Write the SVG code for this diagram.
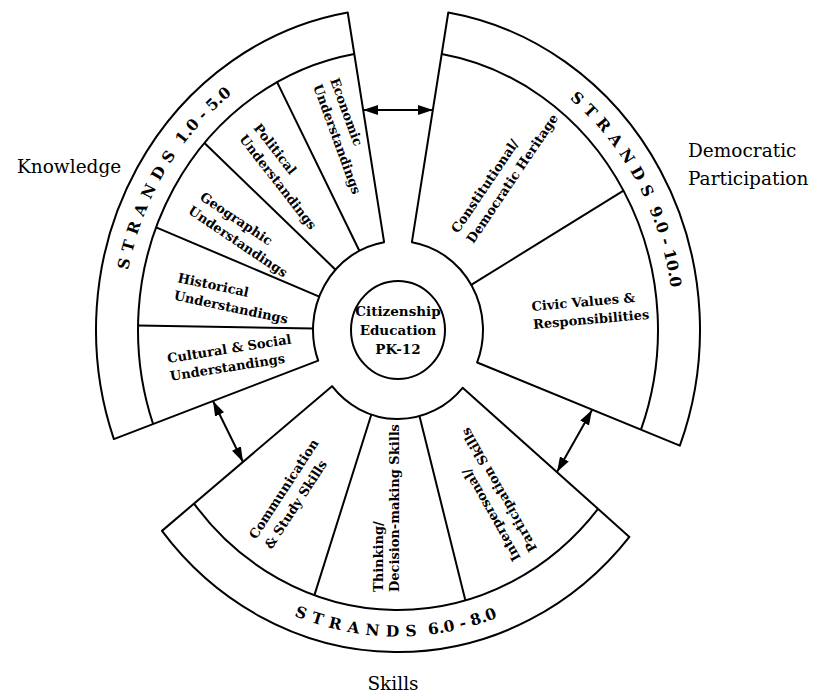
<svg xmlns="http://www.w3.org/2000/svg" width="821" height="694" viewBox="0 0 821 694">
<style>
.ol{fill:none;stroke:#000;stroke-width:2;stroke-linejoin:round}
.ln{fill:none;stroke:#000;stroke-width:2}
.lab{font-family:"DejaVu Serif","Liberation Serif",serif;font-weight:bold;font-size:13px;fill:#000}
.big{font-family:"DejaVu Serif","Liberation Serif",serif;font-size:18.5px;fill:#000}
.str{font-family:"DejaVu Serif","Liberation Serif",serif;font-weight:bold;font-size:15.5px;fill:#000}
.sp{letter-spacing:6.5px}
.ctr{font-family:"DejaVu Serif","Liberation Serif",serif;font-weight:bold;font-size:13.5px;fill:#000;text-anchor:middle}
</style>
<defs>
<marker id="ah" markerUnits="userSpaceOnUse" markerWidth="15" markerHeight="10" refX="15" refY="5" orient="auto-start-reverse" viewBox="0 0 15 10">
<path d="M0,0 L15,5 L0,10 Z" fill="#000"/>
</marker>
<path id="tpK" d="M128.20,270.20 A275.5,295.5 0 0 1 307.34,50.96"/>
<path id="tpD" d="M569.41,98.65 A275.5,295.5 0 0 1 669.85,377.92"/>
<path id="tpS" d="M294.05,615.61 A286.5,306.5 0 0 0 539.67,596.41"/>
</defs>

<g id="knowledge">
<path class="ol" d="M318.20,360.64 L113.86,439.08 A302,322 0 0 1 347.72,12.49 L384.10,242.20 A85,89 0 0 0 318.20,360.64 Z"/>
<path class="ln" d="M153.10,424.02 A260,280 0 0 1 354.29,53.99"/>
<path class="ln" d="M313.01,328.52 L138.04,325.46 M319.22,296.56 L156.11,227.33 M335.52,269.66 L204.44,143.06 M359.34,250.74 L277.09,82.12"/>
<text class="str"><textPath href="#tpK"><tspan class="sp">STRANDS</tspan> 1.0 - 5.0</textPath></text>
<g id="k-cultural"><text class="lab" transform="translate(168,363) rotate(-9)"><tspan x="0" y="0">Cultural &amp; Social</tspan><tspan x="0" y="18">Understandings</tspan></text></g>
<g id="k-historical"><text class="lab" transform="translate(177,282) rotate(12)"><tspan x="0" y="0">Historical</tspan><tspan x="0" y="18">Understandings</tspan></text></g>
<g id="k-geographic"><text class="lab" transform="translate(199,199) rotate(34)"><tspan x="0" y="0">Geographic</tspan><tspan x="-2" y="18">Understandings</tspan></text></g>
<g id="k-political"><text class="lab" transform="translate(253,128) rotate(52)"><tspan x="0" y="0">Political</tspan><tspan x="0" y="18">Understandings</tspan></text></g>
<g id="k-economic"><text class="lab" transform="translate(330,80) rotate(70)"><tspan x="0" y="0">Economic</tspan><tspan x="0" y="18">Understandings</tspan></text></g>
</g>

<g id="democratic">
<path class="ol" d="M411.90,242.20 L448.28,12.49 A302,322 0 0 1 679.86,445.61 L477.14,362.46 A85,89 0 0 0 411.90,242.20 Z"/>
<path class="ln" d="M441.71,53.99 A260,280 0 0 1 640.97,429.66"/>
<path class="ln" d="M471.21,284.78 L623.54,190.69"/>
<text class="str"><textPath href="#tpD"><tspan class="sp">STRANDS</tspan> 9.0 - 10.0</textPath></text>
<g id="d-constitutional"><text class="lab" transform="translate(458,234) rotate(-56)"><tspan x="0" y="0">Constitutional/</tspan><tspan x="0" y="18.5">Democratic Heritage</tspan></text></g>
<g id="d-civic"><text class="lab" transform="translate(532,311) rotate(-5)"><tspan x="0" y="0">Civic Values &amp;</tspan><tspan x="0" y="18">Responsibilities</tspan></text></g>
</g>

<g id="skills">
<path class="ol" d="M462.64,387.79 L629.41,536.89 A302,322 0 0 1 161.97,530.88 L332.04,386.14 A85,89 0 0 0 462.64,387.79 Z"/>
<path class="ln" d="M598.05,508.85 A260,280 0 0 1 194.01,503.61"/>
<path class="ln" d="M419.47,416.11 L465.42,600.42 M371.35,414.51 L314.41,595.13"/>
<text class="str"><textPath href="#tpS"><tspan class="sp">STRANDS</tspan> 6.0 - 8.0</textPath></text>
<g id="s-communication"><text class="lab" transform="translate(256,540) rotate(-57)"><tspan x="0" y="0">Communication</tspan><tspan x="0" y="18.5">&amp; Study Skills</tspan></text></g>
<g id="s-thinking"><text class="lab" transform="translate(383,592) rotate(-90)"><tspan x="0" y="0">Thinking/</tspan><tspan x="0" y="16">Decision-making Skills</tspan></text></g>
<g id="s-interpersonal"><text class="lab" transform="translate(521,558) rotate(-119.5)"><tspan x="0" y="0">Interpersonal/</tspan><tspan x="0" y="19">Participation Skills</tspan></text></g>
</g>

<g id="center">
<ellipse class="ol" cx="398" cy="330" rx="47" ry="49"/>
<text class="ctr"><tspan x="398" y="316">Citizenship</tspan><tspan x="398" y="335">Education</tspan><tspan x="398" y="354">PK-12</tspan></text>
</g>

<g id="titles">
<text class="big" x="17" y="173">Knowledge</text>
<text class="big" x="688" y="157">Democratic</text>
<text class="big" x="688" y="185">Participation</text>
<text class="big" x="393" y="690" text-anchor="middle">Skills</text>
</g>

<g id="connectors">
<line class="ln" x1="363" y1="110" x2="433" y2="110" marker-start="url(#ah)" marker-end="url(#ah)"/>
<line class="ln" x1="213" y1="401" x2="243" y2="462" marker-start="url(#ah)" marker-end="url(#ah)"/>
<line class="ln" x1="592" y1="410" x2="557" y2="472" marker-start="url(#ah)" marker-end="url(#ah)"/>
</g>
</svg>
